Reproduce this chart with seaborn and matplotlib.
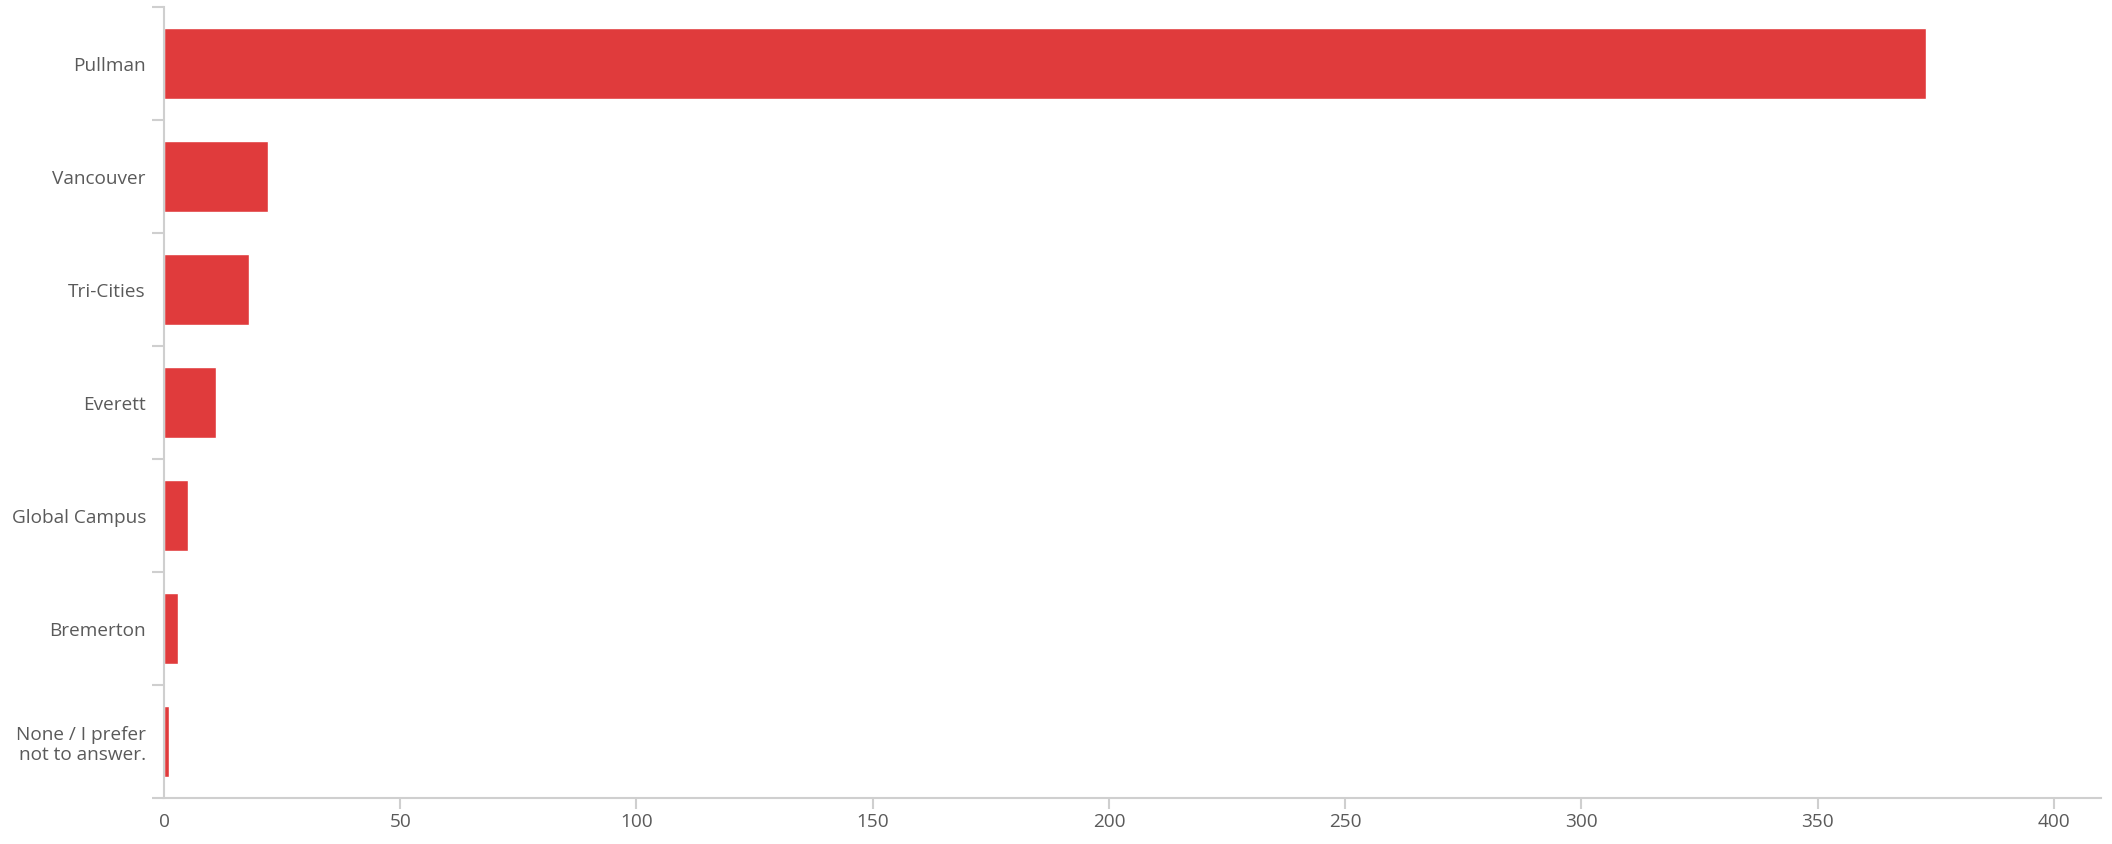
import matplotlib
matplotlib.use("Agg")
import matplotlib.pyplot as plt
import seaborn as sns
import pandas as pd
import numpy as np
from matplotlib.ticker import FixedLocator

categories = ["Pullman", "Vancouver", "Tri-Cities", "Everett", "Global Campus",
              "Bremerton", "None / I prefer\nnot to answer."]
counts = [373, 22, 18, 11, 5, 3, 1]
x_ticks = [0, 50, 100, 150, 200, 250, 300, 350, 400]

sns.set_theme(style="white")
plt.rcParams["font.family"] = ["Open Sans", "DejaVu Sans"]

df = pd.DataFrame({"campus": categories, "count": counts})

fig = plt.figure(figsize=(21.12, 8.44), dpi=100)
ax = fig.add_axes([164/2112, 46/844, (2101-164)/2112, (798-7)/844])

sns.barplot(data=df, y="campus", x="count", color="#E03B3C", saturation=1,
            width=0.62, orient="h", ax=ax)

ax.set_xlim(0, 410)
ax.set_ylim(len(categories) - 0.5, -0.5)
ax.set_xticks(x_ticks)
ax.set_xlabel("")
ax.set_ylabel("")

axis_col = "#cfcfcf"
text_col = "#5a5a5a"
for s in ["top", "right"]:
    ax.spines[s].set_visible(False)
for s in ["left", "bottom"]:
    ax.spines[s].set_color(axis_col)
    ax.spines[s].set_linewidth(1.5)

ax.yaxis.set_minor_locator(FixedLocator(np.arange(-0.5, len(categories), 1.0)))
ax.tick_params(axis="y", which="major", length=0, pad=13, labelsize=13.7, labelcolor=text_col)
ax.tick_params(axis="y", which="minor", left=True, length=8.5, width=1.5, color=axis_col, direction="out")
ax.tick_params(axis="x", which="major", bottom=True, length=8, width=1.5, color=axis_col,
               direction="out", pad=2.5, labelsize=13.7, labelcolor=text_col)
ax.xaxis.get_major_ticks()[0].tick1line.set_visible(False)
for lab in ax.get_yticklabels():
    lab.set_linespacing(1.15)
ax.grid(False)

fig.savefig("out.png", dpi=100, facecolor="white")
